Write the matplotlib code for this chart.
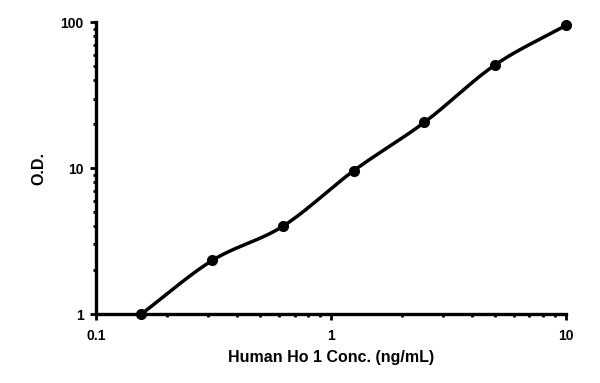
import numpy as np
import matplotlib
matplotlib.use("Agg")
import matplotlib.pyplot as plt
from matplotlib.ticker import LogLocator, FixedLocator, FixedFormatter, NullFormatter

plt.rcParams['font.family'] = ['Liberation Sans', 'DejaVu Sans']

conc = [0.156, 0.3125, 0.625, 1.25, 2.5, 5.0, 10.0]
od = [1.0, 2.33, 4.0, 9.6, 20.6, 51.0, 95.0]
x_ticks = [0.1, 1, 10]
x_labels = ["0.1", "1", "10"]
y_ticks = [1, 10, 100]
y_labels = ["1", "10", "100"]


def catmull_rom(px, py, n=30):
    # smooth line through points, in log space
    px = np.asarray(px)
    py = np.asarray(py)
    P = np.column_stack([px, py])
    P = np.vstack([2 * P[0] - P[1], P, 2 * P[-1] - P[-2]])
    out = []
    for i in range(1, len(P) - 2):
        p0, p1, p2, p3 = P[i - 1], P[i], P[i + 1], P[i + 2]
        t = np.linspace(0, 1, n)[:, None]
        seg = 0.5 * ((2 * p1) + (-p0 + p2) * t + (2 * p0 - 5 * p1 + 4 * p2 - p3) * t ** 2
                     + (-p0 + 3 * p1 - 3 * p2 + p3) * t ** 3)
        out.append(seg)
    out = np.vstack(out)
    return out[:, 0], out[:, 1]


lx, ly = catmull_rom(np.log10(conc), np.log10(od))

fig = plt.figure(figsize=(6.0, 3.83), dpi=100)
ax = fig.add_axes([0.16, 0.18, 0.783, 0.762])

ax.plot(10 ** lx, 10 ** ly, color="black", lw=2.5, solid_capstyle="round")
ax.plot(conc, od, "o", color="black", ms=7, clip_on=False, zorder=3)

ax.set_xscale("log")
ax.set_yscale("log")
ax.set_xlim(0.1, 10)
ax.set_ylim(1, 100)

ax.xaxis.set_major_locator(FixedLocator(x_ticks))
ax.xaxis.set_major_formatter(FixedFormatter(x_labels))
ax.yaxis.set_major_locator(FixedLocator(y_ticks))
ax.yaxis.set_major_formatter(FixedFormatter(y_labels))
ax.xaxis.set_minor_locator(LogLocator(base=10, subs=np.arange(2, 10)))
ax.yaxis.set_minor_locator(LogLocator(base=10, subs=np.arange(2, 10)))
ax.xaxis.set_minor_formatter(NullFormatter())
ax.yaxis.set_minor_formatter(NullFormatter())

for s in ["top", "right"]:
    ax.spines[s].set_visible(False)
for s in ["left", "bottom"]:
    ax.spines[s].set_linewidth(2.4)

ax.tick_params(which="both", direction="out", width=2, labelsize=10)
ax.tick_params(which="major", length=4)
ax.tick_params(which="minor", length=2.5)
ax.tick_params(axis="x", which="major", pad=7)
ax.tick_params(axis="y", which="major", pad=5)
for lab in ax.get_xticklabels() + ax.get_yticklabels():
    lab.set_fontweight("bold")

ax.set_xlabel("Human Ho 1 Conc. (ng/mL)", fontsize=11.5, fontweight="bold", labelpad=5)
ax.set_ylabel("O.D.", fontsize=11.5, fontweight="bold", labelpad=10)

fig.savefig("out.png", dpi=100, facecolor="white")
